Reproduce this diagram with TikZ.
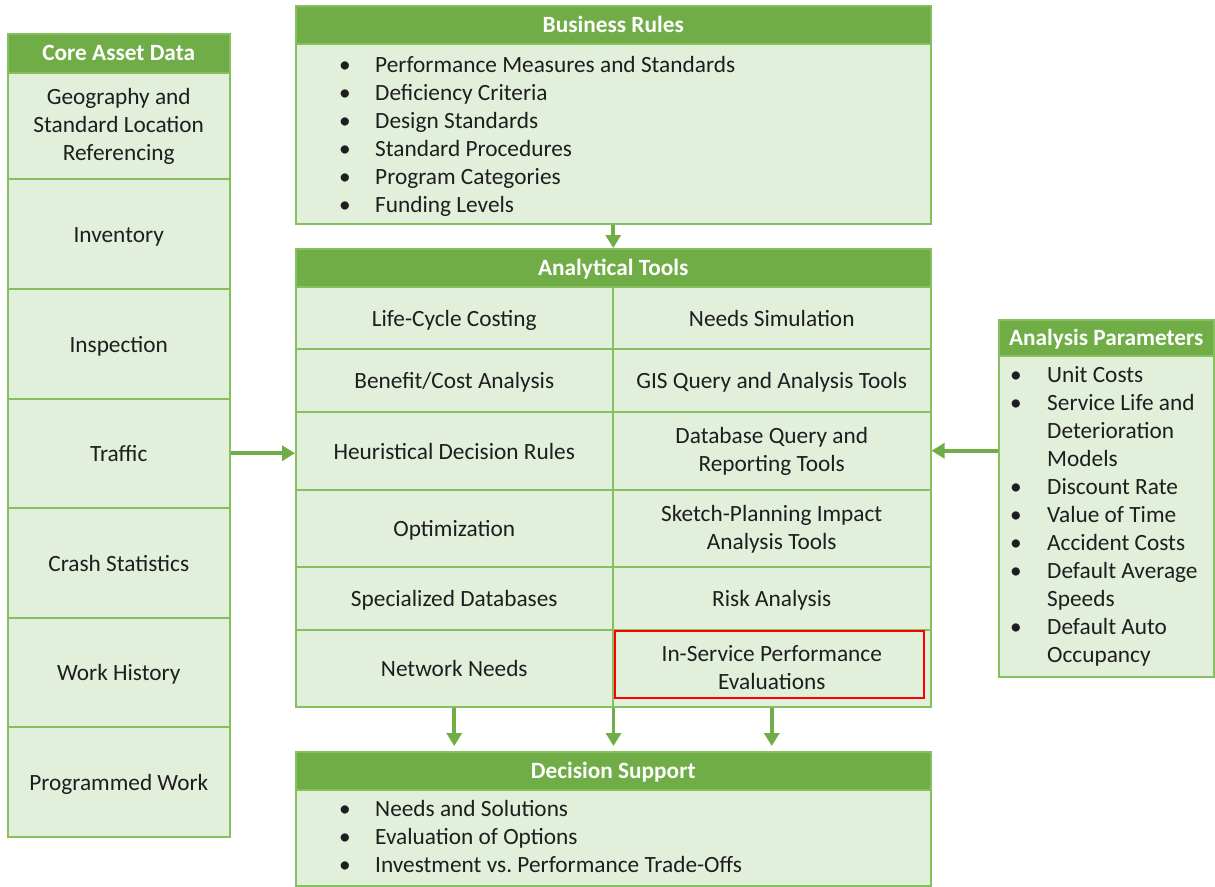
\documentclass[tikz,border=0pt]{standalone}
\usepackage{fontspec}
\setmainfont{Carlito}
\usetikzlibrary{arrows.meta}
\definecolor{hdr}{HTML}{70AD47}
\definecolor{bodyfill}{HTML}{E2EFDA}
\definecolor{edge}{HTML}{86C05E}
\definecolor{ink}{HTML}{1E1E1E}
\definecolor{redline}{HTML}{FF0000}
\tikzset{
  box/.style={draw=edge, line width=1.5pt, fill=bodyfill, anchor=north west, inner sep=0pt},
  header/.style={box, fill=hdr},
  celltext/.style={inner sep=0pt, align=center, text=ink, font=\fontsize{23.3}{28}\selectfont,
    execute at begin node=\strut, execute at end node=\strut},
  headtext/.style={celltext, text=white, font=\bfseries\fontsize{23.3}{28}\selectfont},
  item/.style={anchor=west, inner sep=0pt, text=ink, font=\fontsize{23.3}{28}\selectfont},
  arr/.style={draw=hdr, line width=3.6pt, -{Triangle[length=13pt,width=15pt]}},
}
% \cellbox{name}{x,y}{width}{height}{text}
\newcommand{\cellbox}[5]{%
  \node[box, minimum width=#3pt, minimum height=#4pt] (#1) at (#2) {};
  \node[celltext] (#1-txt) at ([yshift=-3pt]#1.center) {#5};}
\newcommand{\headbox}[5]{%
  \node[header, minimum width=#3pt, minimum height=#4pt] (#1) at (#2) {};
  \node[headtext] (#1-txt) at ([yshift=-2pt]#1.center) {#5};}
\begin{document}
\begin{tikzpicture}[x=1pt,y=-1pt]
\useasboundingbox (0,0) rectangle (1215,886);

% Core asset data column
\headbox{cad}{7,33}{222}{39}{Core Asset Data}
\cellbox{geo}{7,72}{222}{106}{Geography and\\Standard Location\\Referencing}
\cellbox{inv}{7,178}{222}{110}{Inventory}
\cellbox{insp}{7,288}{222}{110}{Inspection}
\cellbox{traf}{7,398}{222}{109}{Traffic}
\cellbox{crash}{7,507}{222}{110}{Crash Statistics}
\cellbox{hist}{7,617}{222}{109}{Work History}
\cellbox{prog}{7,726}{222}{110}{Programmed Work}

% Business rules
\headbox{brh}{295,5}{635}{38}{Business Rules}
\node[box, minimum width=635pt, minimum height=180pt] (br) at (295,43) {};
\foreach \t [count=\i from 0] in {Performance Measures and Standards, Deficiency Criteria,
    Design Standards, Standard Procedures, Program Categories, Funding Levels}{
  \node[item] (br-b\i) at (339,{67+28*\i}) {\strut\textbullet};
  \node[item] (br-t\i) at (375,{67+28*\i}) {\strut\t};
}

% Analytical tools grid
\headbox{ath}{295,248}{635}{38}{Analytical Tools}
\cellbox{lcc}{295,286}{317}{62}{Life-Cycle Costing}
\cellbox{nsim}{612,286}{318}{62}{Needs Simulation}
\cellbox{bca}{295,348}{317}{63}{Benefit/Cost Analysis}
\cellbox{gis}{612,348}{318}{63}{GIS Query and Analysis Tools}
\cellbox{heur}{295,411}{317}{78}{Heuristical Decision Rules}
\cellbox{dbq}{612,411}{318}{78}{Database Query and\\Reporting Tools}
\cellbox{opt}{295,489}{317}{77}{Optimization}
\cellbox{sketch}{612,489}{318}{77}{Sketch-Planning Impact\\Analysis Tools}
\cellbox{spdb}{295,566}{317}{63}{Specialized Databases}
\cellbox{risk}{612,566}{318}{63}{Risk Analysis}
\cellbox{net}{295,629}{317}{77}{Network Needs}
\cellbox{isp}{612,629}{318}{77}{In-Service Performance\\Evaluations}
\draw[draw=redline, line width=2.2pt] (615,631) rectangle (924,698);

% Decision support
\headbox{dsh}{295,751}{635}{38}{Decision Support}
\node[box, minimum width=635pt, minimum height=96pt] (ds) at (295,789) {};
\foreach \t [count=\i from 0] in {Needs and Solutions, Evaluation of Options,
    Investment vs.\ Performance Trade-Offs}{
  \node[item] (ds-b\i) at (339,{811+28*\i}) {\strut\textbullet};
  \node[item] (ds-t\i) at (375,{811+28*\i}) {\strut\t};
}

% Analysis parameters
\headbox{aph}{998,319}{215}{36}{Analysis Parameters}
\node[box, minimum width=215pt, minimum height=321pt] (ap) at (998,355) {};
\foreach \t [count=\i from 0] in {Unit Costs, Service Life and, Deterioration, Models,
    Discount Rate, Value of Time, Accident Costs, Default Average, Speeds,
    Default Auto, Occupancy}{
  \node[item] (ap-t\i) at (1047,{377+28*\i}) {\strut\t};
}
\foreach \i in {0,1,4,5,6,7,9}{
  \node[item] (ap-b\i) at (1010,{377+28*\i}) {\strut\textbullet};
}

% Connectors
\draw[arr] (br.south) -- (ath.north);
\draw[arr] (traf.east) -- (traf.east -| heur.west);
\draw[arr] (ap.west |- heur.east) -- (dbq.east);
\draw[arr, shorten >=5pt] (net.south) -- (net.south |- dsh.north);
\draw[arr, shorten >=5pt] (net.south east) -- (net.south east |- dsh.north);
\draw[arr, shorten >=5pt] (isp.south) -- (isp.south |- dsh.north);
\end{tikzpicture}
\end{document}
